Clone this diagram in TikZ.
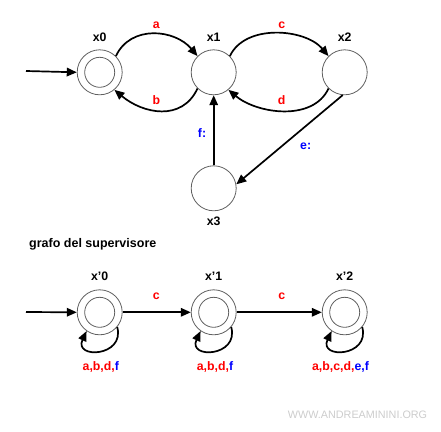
\documentclass[tikz,border=0pt]{standalone}
\usepackage{fontspec}
\setmainfont{Liberation Sans}
\usetikzlibrary{arrows.meta}
\begin{document}
\begin{tikzpicture}[x=1pt,y=-1pt,
  st/.style={circle,draw=gray!75!black,line width=0.8pt,minimum size=45pt,inner sep=0pt},
  ring/.style={draw=gray!75!black,line width=0.8pt},
  arr/.style={line width=1.7pt,-{Triangle[length=10pt,width=8.5pt]}},
  nlab/.style={font=\bfseries\fontsize{12.3}{14}\selectfont,inner sep=0pt},
  elab/.style={font=\bfseries\fontsize{12.3}{14}\selectfont,inner sep=0pt,text=red},
  blab/.style={font=\bfseries\fontsize{12.3}{14}\selectfont,inner sep=0pt,text=blue}]
\useasboundingbox (0,0) rectangle (441,431);
% top graph
\node[st] (x0) at (99.7,72.3) {};
\draw[ring] (x0.center) circle[radius=15pt];
\node[st] (x1) at (213.7,72.3) {};
\node[st] (x2) at (344.7,72.3) {};
\node[st] (x3) at (213.7,188.3) {};
\node[nlab] (lx0) at (99.7,37) {x0};
\node[nlab] (lx1) at (213.7,37) {x1};
\node[nlab] (lx2) at (344.7,37) {x2};
\node[nlab] (lx3) at (213.7,221) {x3};
\coordinate (s0) at (26,71);
\draw[arr] (s0) -- (x0.west);
\draw[arr] (x0.45) .. controls +(65:35pt) and +(130:35pt) .. (x1.135);
\draw[arr] (x1.-135) .. controls +(-115:37pt) and +(-40:37pt) .. (x0.-50);
\draw[arr] (x1.45) .. controls +(65:36pt) and +(130:36pt) .. (x2.135);
\draw[arr] (x2.-135) .. controls +(-115:37pt) and +(-40:37pt) .. (x1.-50);
\draw[arr] (x3) -- (x1);
\draw[arr] (x2.-95) -- (x3.10);
\node[elab] (la) at (156.3,25) {a};
\node[elab] (lb) at (156.3,100) {b};
\node[elab] (lc) at (281.7,25) {c};
\node[elab] (ld) at (281.7,100) {d};
\node[blab] (lf) at (202,133) {f:};
\node[blab] (le) at (305.7,146.5) {e:};
% supervisor
\node[font=\bfseries\fontsize{12.5}{14}\selectfont,inner sep=0pt,anchor=west] (title) at (29,244) {grafo del supervisore};
\node[st] (y0) at (99.7,312.3) {};
\draw[ring] (y0.center) circle[radius=15pt];
\node[st] (y1) at (213.7,312.3) {};
\draw[ring] (y1.center) circle[radius=15pt];
\node[st] (y2) at (344.7,312.3) {};
\draw[ring] (y2.center) circle[radius=15pt];
\node[nlab] (ly0) at (99.7,276) {x'0};
\node[nlab] (ly1) at (213.7,276) {x'1};
\node[nlab] (ly2) at (344.7,276) {x'2};
\coordinate (s1) at (26,312);
\draw[arr] (s1) -- (y0.west);
\draw[arr] (y0.east) -- (y1.west);
\draw[arr] (y1.east) -- (y2.west);
\node[elab] (lc1) at (156.3,296) {c};
\node[elab] (lc2) at (281.7,296) {c};
\foreach \n in {y0,y1,y2}{
  \draw[arr] (\n.-40) .. controls +(-75:31pt) and +(-115:31pt) .. (\n.-125);
}
\node[elab] (ll0) at (100.8,367) {a,b,d,\textcolor{blue}{f}};
\node[elab] (ll1) at (215,367) {a,b,d,\textcolor{blue}{f}};
\node[elab] (ll2) at (340.5,367) {a,b,c,d,\textcolor{blue}{e,f}};
\node[text=gray!40,font=\fontsize{10.8}{12}\selectfont,inner sep=0pt] (wm) at (357.5,414.3) {WWW.ANDREAMININI.ORG};
\end{tikzpicture}
\end{document}
